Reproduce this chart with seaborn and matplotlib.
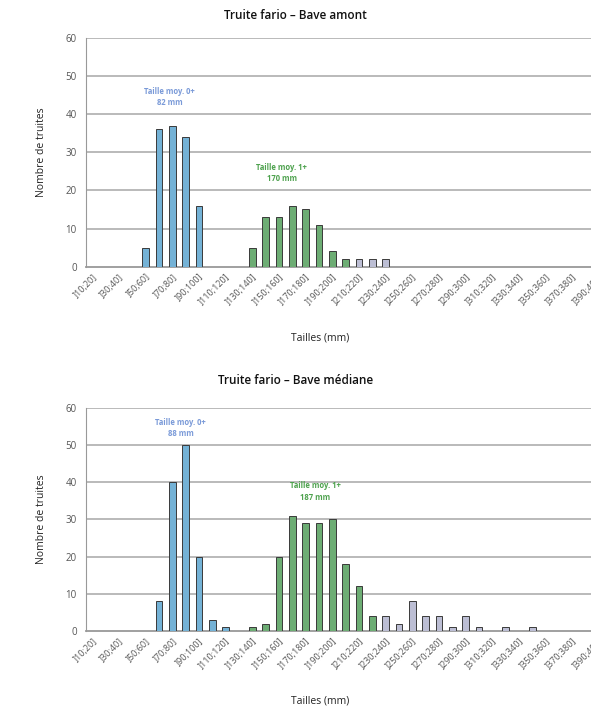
import numpy as np
import pandas as pd
import seaborn as sns
import matplotlib.pyplot as plt

# size classes ]10;20] ... ]390;400]
bornes = list(range(10, 400, 10))
classes = [f']{b};{b + 10}]' for b in bornes]

# counts per class (index 0 = ]10;20])
amont = {4: 5, 5: 36, 6: 37, 7: 34, 8: 16,
         12: 5, 13: 13, 14: 13, 15: 16, 16: 15, 17: 11, 18: 4, 19: 2,
         20: 2, 21: 2, 22: 2}
amont_groupe = {4: '0+', 5: '0+', 6: '0+', 7: '0+', 8: '0+',
                12: '1+', 13: '1+', 14: '1+', 15: '1+', 16: '1+', 17: '1+', 18: '1+', 19: '1+',
                20: 'adulte', 21: 'adulte', 22: 'adulte'}

mediane = {5: 8, 6: 40, 7: 50, 8: 20, 9: 3, 10: 1,
           12: 1, 13: 2, 14: 20, 15: 31, 16: 29, 17: 29, 18: 30, 19: 18, 20: 12, 21: 4,
           22: 4, 23: 2, 24: 8, 25: 4, 26: 4, 27: 1, 28: 4, 29: 1, 31: 1, 33: 1}
mediane_groupe = {5: '0+', 6: '0+', 7: '0+', 8: '0+', 9: '0+', 10: '0+',
                  12: '1+', 13: '1+', 14: '1+', 15: '1+', 16: '1+', 17: '1+', 18: '1+', 19: '1+',
                  20: '1+', 21: '1+',
                  22: 'adulte', 23: 'adulte', 24: 'adulte', 25: 'adulte', 26: 'adulte',
                  27: 'adulte', 28: 'adulte', 29: 'adulte', 31: 'adulte', 33: 'adulte'}

titres = ['Truite fario – Bave amont', 'Truite fario – Bave médiane']
moy_0 = ['Taille moy. 0+\n82 mm', 'Taille moy. 0+\n88 mm']
moy_1 = ['Taille moy. 1+\n170 mm', 'Taille moy. 1+\n187 mm']

couleurs = {'0+': '#64b6e6', '1+': '#62b86c', 'adulte': '#b8bad8'}

sns.set_style('white')
plt.rcParams['font.family'] = ['Open Sans', 'DejaVu Sans']

fig = plt.figure(figsize=(5.91, 7.11), dpi=100)
positions = [[0.145, 0.625, 0.88, 0.3216], [0.145, 0.1125, 0.88, 0.314]]
pos_0 = [(5.8, 44.5), (6.6, 54.5)]
pos_1 = [(14.2, 24.5), (16.7, 37.5)]

for k, (valeurs, groupes) in enumerate([(amont, amont_groupe), (mediane, mediane_groupe)]):
    ax = fig.add_axes(positions[k])
    df = pd.DataFrame({
        'classe': classes,
        'n': [valeurs.get(i, np.nan) for i in range(len(classes))],
        'groupe': [groupes.get(i, 'adulte') for i in range(len(classes))],
    })
    sns.barplot(data=df, x='classe', y='n', hue='groupe', order=classes,
                hue_order=['0+', '1+', 'adulte'], palette=couleurs, dodge=False,
                width=0.5, edgecolor='#3a3a3a', linewidth=0.7, legend=False, ax=ax,
                zorder=3)

    ax.set_xlim(-0.5, len(classes) - 0.5)
    ax.set_ylim(0, 60)
    ax.set_yticks(range(0, 61, 10))
    for y in range(10, 61, 10):
        ax.axhline(y, color='#b4b4b4', lw=1.3, zorder=1)

    ax.set_xticks(range(0, len(classes), 2))
    ax.set_xticklabels(classes[::2], rotation=45, ha='right', rotation_mode='anchor',
                       fontsize=6.5, color='#555555')
    ax.set_xticks(np.arange(-0.5, len(classes), 1), minor=True)
    ax.tick_params(axis='x', which='major', length=0, pad=4)
    ax.tick_params(axis='x', which='minor', length=3, color='#888888', width=0.8)
    ax.tick_params(axis='y', length=3, color='#888888', labelsize=7, labelcolor='#555555')

    for side in ['top', 'right']:
        ax.spines[side].set_visible(False)
    ax.spines['left'].set_color('#999999')
    ax.spines['bottom'].set_color('#999999')
    ax.spines['bottom'].set_linewidth(1.3)

    ax.set_xlabel('Tailles (mm)', fontsize=7.5, color='#222222')
    ax.set_ylabel('Nombre de truites', fontsize=7.5, color='#222222')
    ax.xaxis.set_label_coords(0.45, -0.29)
    ax.yaxis.set_label_coords(-0.075, 0.5)

    ax.text(*pos_0[k], moy_0[k], ha='center', va='center', fontsize=5.5,
            color='#7a9ad8', fontweight='bold', linespacing=1.3)
    ax.text(*pos_1[k], moy_1[k], ha='center', va='center', fontsize=5.5,
            color='#4ea24e', fontweight='bold', linespacing=1.3)

fig.text(0.5, 0.978, titres[0], ha='center', va='center', fontsize=8.5,
         fontweight='semibold', color='#111111')
fig.text(0.5, 0.4655, titres[1], ha='center', va='center', fontsize=8.5,
         fontweight='semibold', color='#111111')

plt.savefig('out.png', dpi=100)
